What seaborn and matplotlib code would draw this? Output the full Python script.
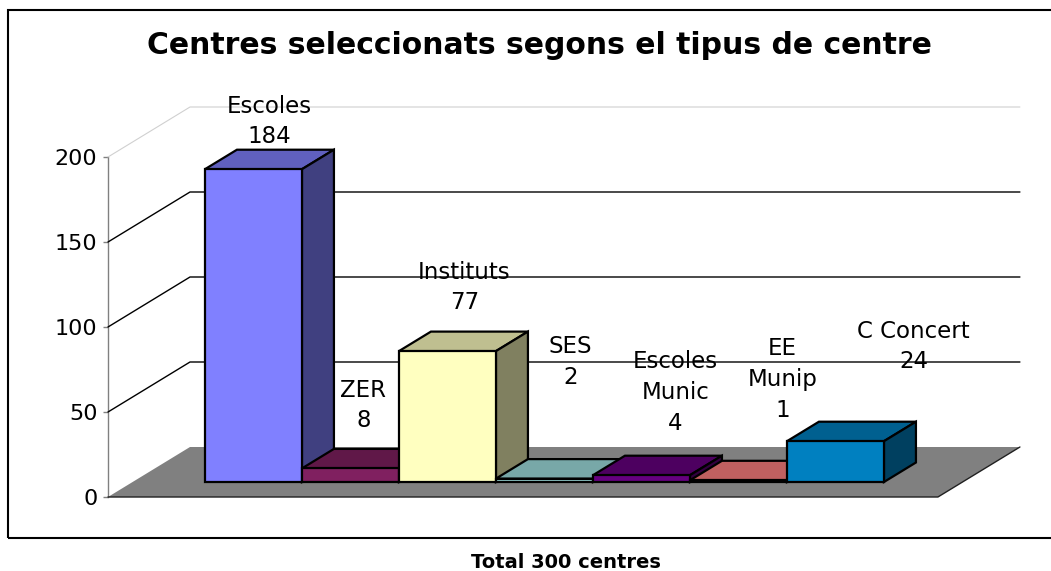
import matplotlib
matplotlib.use("Agg")
import matplotlib.pyplot as plt
import matplotlib.colors as mcolors
from matplotlib.patches import Polygon, Rectangle
import numpy as np
import seaborn as sns

categories = ["Escoles", "ZER", "Instituts", "SES", "Escoles Munic", "EE Munip", "C Concert"]
label_names = ["Escoles", "ZER", "Instituts", "SES", "Escoles\nMunic", "EE\nMunip", "C Concert"]
values = [184, 8, 77, 2, 4, 1, 24]
y_ticks = [0, 50, 100, 150, 200]
title = "Centres seleccionats segons el tipus de centre"
footer = "Total 300 centres"

front_colors = ["#8080FF", "#802060", "#FFFFC0", "#A0E0E0", "#660080", "#FF8080", "#0080C0"]
# where each data label sits, in pixels from the centre of the bar's top face
label_offsets = [(0, 38), (-3, 53), (1, 54), (10, 107), (18, 73), (28, 91), (62, 85)]

W, H = 1051, 571
sns.set_theme(style="white")
plt.rcParams["font.family"] = ["DejaVu Sans"]
plt.rcParams["text.color"] = "black"

fig = plt.figure(figsize=(W / 100, H / 100), dpi=100)

# fake 3d geometry (pixels)
depth_px = (82, 50)
bar_d0, bar_d1 = 0.3, 0.69
cat_px, val_px = 97, 1.7
x0, x1 = -1.246, 7.31
ax_left, ax_bottom = 132.6, 89
ax_w = (x1 - x0) * cat_px
ax_h = 200 * val_px

ax_front = fig.add_axes([(ax_left - bar_d0 * depth_px[0]) / W, (ax_bottom - bar_d0 * depth_px[1]) / H,
                         ax_w / W, ax_h / H], zorder=0)
ax = fig.add_axes([ax_left / W, ax_bottom / H, ax_w / W, ax_h / H], zorder=1)

DX = depth_px[0] / cat_px
DY = depth_px[1] / val_px


def proj(x, y, d):
    return (x + (d - bar_d0) * DX, y + (d - bar_d0) * DY)


sns.barplot(x=categories, y=values, hue=categories, palette=front_colors, legend=False,
            width=1.0, saturation=1, edgecolor="black", linewidth=1.6, ax=ax)
bars = sorted(ax.patches, key=lambda p: p.get_x())
ax.set_xlim(x0, x1)
ax.set_ylim(0, 200)
ax.set_axis_off()

# floor
floor = [proj(x0, 0, 0), proj(x1, 0, 0), proj(x1, 0, 1), proj(x0, 0, 1)]
ax.add_patch(Polygon(floor, closed=True, fc="#808080", ec="none", zorder=1, clip_on=False))
ax.plot(*zip(floor[0], floor[1], floor[2]), color="#202020", lw=1, zorder=1.5, clip_on=False)

# walls
for v in y_ticks[1:]:
    col, lw = ("#d0d0d0", 0.8) if v == 200 else ("black", 1.0)
    a, b = proj(x0, v, 0), proj(x0, v, 1)
    c = proj(x1, v, 1)
    ax.plot([a[0], b[0], c[0]], [a[1], b[1], c[1]], color=col, lw=lw, zorder=2, clip_on=False)

bx = (bar_d1 - bar_d0) * DX
by = (bar_d1 - bar_d0) * DY
for k, p in enumerate(bars):
    x, w, h = p.get_x(), p.get_width(), p.get_height()
    base = np.array(mcolors.to_rgb(front_colors[k]))
    p.set_zorder(11 + 2 * k)
    p.set_clip_on(False)
    top = [(x, h), (x + w, h), (x + w + bx, h + by), (x + bx, h + by)]
    side = [(x + w, 0), (x + w + bx, by), (x + w + bx, h + by), (x + w, h)]
    ax.add_patch(Polygon(top, closed=True, fc=base * 0.75, ec="black", lw=1.6,
                         zorder=10 + 2 * k, clip_on=False))
    ax.add_patch(Polygon(side, closed=True, fc=base * 0.5, ec="black", lw=1.6,
                         zorder=10 + 2 * k, clip_on=False))
    ax.annotate(f"{label_names[k]}\n{values[k]}", xy=(x + w / 2 + bx / 2, h + by / 2),
                xytext=label_offsets[k], textcoords="offset pixels", ha="center", va="center",
                fontsize=16.5, linespacing=1.42, zorder=40, annotation_clip=False, color="black")

# value axis on the front plane
ax_front.set_xlim(x0, x1)
ax_front.set_ylim(0, 200)
ax_front.set_yticks(y_ticks)
ax_front.set_xticks([])
ax_front.patch.set_visible(False)
for s in ["top", "right", "bottom"]:
    ax_front.spines[s].set_visible(False)
ax_front.spines["left"].set_color("#808080")
ax_front.spines["left"].set_linewidth(1)
ax_front.tick_params(axis="y", left=True, length=3.6, width=1, color="#808080",
                     direction="out", pad=4, labelsize=16, labelcolor="black")

fig.text(539 / W, 1 - 45 / H, title, ha="center", va="center", fontsize=21.5, fontweight="bold")
fig.text(566 / W, 1 - 562 / H, footer, ha="center", va="center", fontsize=14, fontweight="bold")
fig.add_artist(Rectangle((8 / W, (H - 538) / H), (1060 - 8) / W, (538 - 10) / H,
                         transform=fig.transFigure, fill=False, lw=1.5, ec="black"))

fig.savefig("out.png", dpi=100, facecolor="white")
